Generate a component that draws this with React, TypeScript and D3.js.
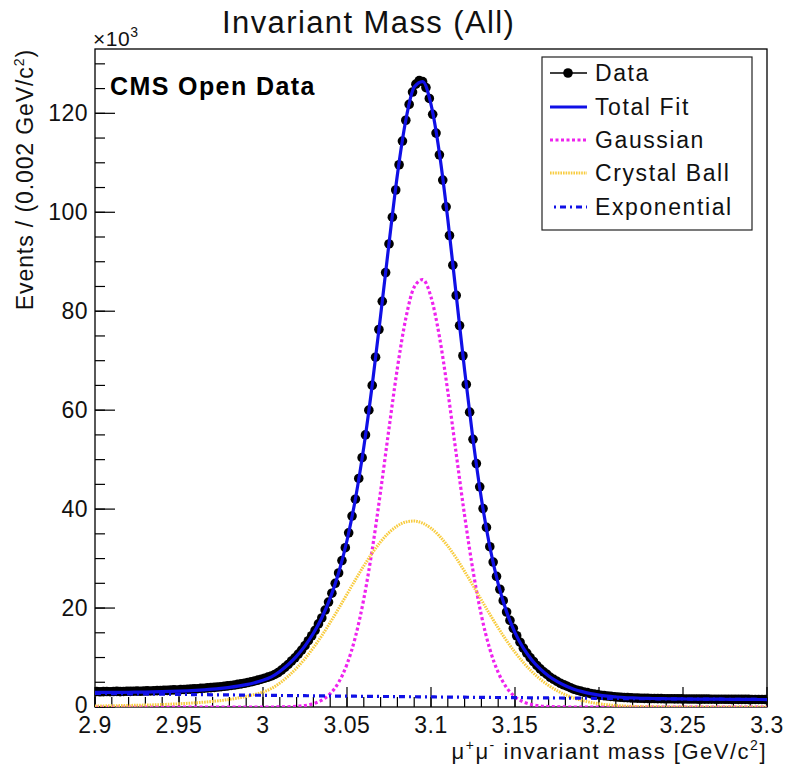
import React from "react";
import * as d3 from "d3";

// ---- data (values in units of 10^3 events) ----
const binStart = 2.9;
const binWidth = 0.002;
const dataCounts = [
  3.12, 3.08, 3.11, 3.13, 3.09, 3.12, 3.15, 3.1, 3.14, 3.17,
  3.16, 3.19, 3.21, 3.18, 3.23, 3.26, 3.24, 3.28, 3.31, 3.35,
  3.37, 3.36, 3.42, 3.46, 3.44, 3.51, 3.55, 3.58, 3.62, 3.67,
  3.7, 3.76, 3.8, 3.86, 3.92, 3.97, 4.04, 4.1, 4.18, 4.27,
  4.36, 4.45, 4.57, 4.68, 4.8, 4.95, 5.1, 5.26, 5.43, 5.62,
  5.82, 6.03, 6.28, 6.58, 6.95, 7.45, 8.0, 8.6, 9.3, 9.95,
  10.7, 11.5, 12.4, 13.4, 14.4, 15.5, 16.8, 18.0, 19.6, 21.2,
  23.0, 25.0, 27.1, 29.6, 32.2, 35.2, 38.6, 42.0, 46.2, 50.4,
  55.0, 60.0, 65.0, 70.7, 76.3, 82.0, 87.8, 93.6, 99.0, 104.5,
  109.6, 114.4, 118.6, 121.8, 124.3, 125.9, 126.6, 126.4, 125.2, 123.0,
  119.8, 116.0, 111.6, 106.5, 101.1, 95.3, 89.3, 83.2, 77.1, 71.0,
  65.2, 59.6, 54.1, 49.2, 44.5, 40.1, 36.3, 32.4, 29.3, 26.4,
  23.8, 21.5, 19.2, 17.5, 15.9, 14.4, 13.1, 11.9, 10.9, 10.0,
  9.2, 8.4, 7.7, 7.1, 6.6, 6.0, 5.6, 5.2, 4.8, 4.5,
  4.2, 3.9, 3.6, 3.4, 3.2, 3.0, 2.9, 2.7, 2.6, 2.5,
  2.38, 2.29, 2.21, 2.14, 2.08, 2.02, 1.97, 1.92, 1.89, 1.85,
  1.82, 1.8, 1.77, 1.75, 1.74, 1.72, 1.71, 1.69, 1.69, 1.67,
  1.67, 1.66, 1.65, 1.64, 1.64, 1.63, 1.62, 1.61, 1.62, 1.6,
  1.6, 1.59, 1.6, 1.58, 1.58, 1.57, 1.58, 1.57, 1.56, 1.55,
  1.56, 1.55, 1.54, 1.55, 1.54, 1.53, 1.53, 1.52, 1.53, 1.51,
];

// fit curves sampled every 0.005 GeV from 2.900 to 3.300
const gridStart = 2.9;
const gridStep = 0.005;
const totalFit = [
  2.95, 2.95, 2.96, 2.97, 2.98, 3.0, 3.02, 3.05, 3.09, 3.14,
  3.2, 3.27, 3.36, 3.47, 3.6, 3.77, 3.97, 4.22, 4.53, 4.91,
  5.39, 6.09, 7.18, 8.58, 10.29, 12.36, 14.9, 18.04, 22.0, 27.08,
  33.65, 42.06, 52.53, 65.05, 79.12, 93.67, 107.6, 118.6, 125.3, 126.4,
  121.8, 112.0, 98.6, 83.29, 68.09, 54.09, 42.09, 32.39, 24.89, 19.23,
  15.03, 11.89, 9.52, 7.7, 6.27, 5.17, 4.29, 3.61, 3.1, 2.71,
  2.4, 2.19, 2.04, 1.91, 1.83, 1.77, 1.73, 1.69, 1.67, 1.65,
  1.63, 1.61, 1.6, 1.59, 1.58, 1.57, 1.55, 1.54, 1.53, 1.52, 1.51,
];
const gaussian = [
  0, 0, 0, 0, 0, 0, 0, 0, 0, 0,
  0, 0, 0, 0, 0, 0, 0, 0, 0, 0,
  0, 0, 0.02, 0.05, 0.13, 0.3, 0.66, 1.37, 2.69, 4.97,
  8.64, 14.16, 21.85, 31.79, 43.6, 56.3, 68.51, 78.55, 84.87, 86.4,
  82.88, 74.9, 63.79, 51.19, 38.7, 27.57, 18.5, 11.71, 6.98, 3.92,
  2.07, 1.03, 0.49, 0.22, 0.09, 0.04, 0.01, 0, 0, 0,
  0, 0, 0, 0, 0, 0, 0, 0, 0, 0,
  0, 0, 0, 0, 0, 0, 0, 0, 0, 0, 0,
];
const crystalBall = [
  0.2, 0.22, 0.25, 0.28, 0.31, 0.35, 0.39, 0.44, 0.5, 0.57,
  0.65, 0.74, 0.85, 0.98, 1.13, 1.31, 1.53, 1.8, 2.13, 2.53,
  3.02, 3.74, 4.83, 6.22, 7.86, 9.78, 11.98, 14.42, 17.08, 19.9,
  22.81, 25.72, 28.52, 31.11, 33.39, 35.25, 36.61, 37.4, 37.59, 37.16,
  36.13, 34.57, 32.52, 30.11, 27.41, 24.56, 21.64, 18.75, 15.99, 13.41,
  11.07, 8.98, 7.17, 5.63, 4.35, 3.31, 2.47, 1.82, 1.32, 0.94,
  0.65, 0.45, 0.31, 0.2, 0.13, 0.08, 0.05, 0.03, 0.02, 0.01,
  0, 0, 0, 0, 0, 0, 0, 0, 0, 0, 0,
];
const exponential = [
  2.75, 2.73, 2.71, 2.69, 2.67, 2.65, 2.63, 2.61, 2.59, 2.57,
  2.55, 2.53, 2.51, 2.49, 2.47, 2.46, 2.44, 2.42, 2.4, 2.38,
  2.37, 2.35, 2.33, 2.31, 2.3, 2.28, 2.26, 2.25, 2.23, 2.21,
  2.2, 2.18, 2.16, 2.15, 2.13, 2.12, 2.1, 2.08, 2.07, 2.05,
  2.04, 2.02, 2.01, 1.99, 1.98, 1.96, 1.95, 1.93, 1.92, 1.9,
  1.89, 1.88, 1.86, 1.85, 1.83, 1.82, 1.81, 1.79, 1.78, 1.77,
  1.75, 1.74, 1.73, 1.71, 1.7, 1.69, 1.68, 1.66, 1.65, 1.64,
  1.63, 1.61, 1.6, 1.59, 1.58, 1.57, 1.55, 1.54, 1.53, 1.52, 1.51,
];

const xTicks = [2.9, 2.95, 3, 3.05, 3.1, 3.15, 3.2, 3.25, 3.3];
const xTickLabels = ["2.9", "2.95", "3", "3.05", "3.1", "3.15", "3.2", "3.25", "3.3"];
const yTicks = [0, 20, 40, 60, 80, 100, 120];
const yTickLabels = ["0", "20", "40", "60", "80", "100", "120"];
const legendLabels = ["Data", "Total Fit", "Gaussian", "Crystal Ball", "Exponential"];

const FONT = "'Liberation Sans', Arial, Helvetica, sans-serif";
const BLUE = "#1010e6";
const MAGENTA = "#ee22ee";
const YELLOW = "#f8cc40";

export default function App() {
  const W = 786;
  const H = 769;
  const L = 95, R = 767, T = 49, B = 707;
  const x = d3.scaleLinear().domain([2.9, 3.3]).range([L, R]);
  const y = d3.scaleLinear().domain([0, 133]).range([B, T]);

  const mk = (vals: number[]) =>
    d3
      .line<number>()
      .x((_, i) => x(gridStart + i * gridStep))
      .y((d) => y(d))
      .curve(d3.curveMonotoneX)(vals) || "";

  const minorX = d3.range(0, 41).map((i) => 2.9 + i * 0.01);
  const minorY = d3.range(0, 27).map((i) => i * 5);

  const rows = [73, 107, 140, 173, 207];

  return (
    <svg
      width={W}
      height={H}
      style={{ position: "absolute", left: 0, top: 0, background: "#fff" }}
      fontFamily={FONT}
    >
      <rect x={0} y={0} width={W} height={H} fill="#fff" />
      <defs>
        <clipPath id="plotclip">
          <rect x={L} y={T} width={R - L} height={B - T} />
        </clipPath>
      </defs>

      {/* title */}
      <text x={222} y={33} fontSize={31} letterSpacing={1.4} fill="#111">
        Invariant Mass (All)
      </text>

      {/* frame */}
      <rect x={L} y={T} width={R - L} height={B - T} fill="none" stroke="#000" strokeWidth={1.3} />

      {/* x ticks */}
      {minorX.map((v, i) => (
        <line key={"mx" + i} x1={x(v)} x2={x(v)} y1={B} y2={B - 10} stroke="#000" strokeWidth={1.2} />
      ))}
      {xTicks.map((v, i) => (
        <g key={"x" + i}>
          <line x1={x(v)} x2={x(v)} y1={B} y2={B - 20} stroke="#000" strokeWidth={1.2} />
          <text x={x(v)} y={733} fontSize={23} letterSpacing={0.5} textAnchor="middle" fill="#111">
            {xTickLabels[i]}
          </text>
        </g>
      ))}

      {/* y ticks */}
      {minorY.map((v, i) => (
        <line key={"my" + i} x1={L} x2={L + 10} y1={y(v)} y2={y(v)} stroke="#000" strokeWidth={1.2} />
      ))}
      {yTicks.map((v, i) => (
        <g key={"y" + i}>
          <line x1={L} x2={L + 20} y1={y(v)} y2={y(v)} stroke="#000" strokeWidth={1.2} />
          <text x={88} y={y(v) + (v === 0 ? 6 : 8)} fontSize={23} letterSpacing={0.5} textAnchor="end" fill="#111">
            {yTickLabels[i]}
          </text>
        </g>
      ))}

      {/* exponent */}
      <text x={93} y={46} fontSize={21} letterSpacing={0.5} fill="#111">
        ×10
        <tspan dy={-9} fontSize={14}>3</tspan>
      </text>

      {/* axis titles */}
      <text x={767} y={759} fontSize={22} letterSpacing={1.5} textAnchor="end" fill="#111">
        μ<tspan dy={-9} fontSize={14}>+</tspan>
        <tspan dy={9}>μ</tspan>
        <tspan dy={-9} fontSize={14}>-</tspan>
        <tspan dy={9}> invariant mass [GeV/c</tspan>
        <tspan dy={-9} fontSize={14}>2</tspan>
        <tspan dy={9}>]</tspan>
      </text>
      <text transform="rotate(-90)" x={-49} y={33} fontSize={23} letterSpacing={0.9} textAnchor="end" fill="#111">
        Events / (0.002 GeV/c<tspan dy={-9} fontSize={14}>2</tspan>
        <tspan dy={9}>)</tspan>
      </text>

      {/* CMS label */}
      <text x={110} y={95} fontSize={25} fontWeight="bold" letterSpacing={1.4} fill="#000">
        CMS Open Data
      </text>

      {/* plot contents */}
      <g clipPath="url(#plotclip)">
        {dataCounts.map((v, i) => (
          <circle key={"d" + i} cx={x(binStart + binWidth * (i + 0.5))} cy={y(v)} r={4.8} fill="#000" />
        ))}
        <path d={mk(totalFit)} fill="none" stroke={BLUE} strokeWidth={3.2} />
        <path d={mk(gaussian)} fill="none" stroke={MAGENTA} strokeWidth={3.2} strokeDasharray="3 2.5" />
        <path d={mk(crystalBall)} fill="none" stroke={YELLOW} strokeWidth={3} strokeDasharray="1.6 1" />
        <path d={mk(exponential)} fill="none" stroke={BLUE} strokeWidth={3.2} strokeDasharray="6 4 2 4" />
      </g>

      {/* legend */}
      <rect x={542} y={57} width={210} height={173} fill="#fff" stroke="#222" strokeWidth={1.2} />
      {legendLabels.map((lab, i) => (
        <text key={"l" + i} x={595} y={rows[i] + 8} fontSize={23} letterSpacing={1.6} fill="#111">
          {lab}
        </text>
      ))}
      <line x1={550} x2={587} y1={rows[0]} y2={rows[0]} stroke="#000" strokeWidth={1.5} />
      <circle cx={568} cy={rows[0]} r={4.8} fill="#000" />
      <line x1={550} x2={587} y1={rows[1]} y2={rows[1]} stroke={BLUE} strokeWidth={3.2} />
      <line x1={550} x2={587} y1={rows[2]} y2={rows[2]} stroke={MAGENTA} strokeWidth={3} strokeDasharray="3 2.5" />
      <line x1={550} x2={587} y1={rows[3]} y2={rows[3]} stroke={YELLOW} strokeWidth={3} strokeDasharray="1.6 1" />
      <line x1={554} x2={587} y1={rows[4]} y2={rows[4]} stroke={BLUE} strokeWidth={3} strokeDasharray="2 4 6 4" />
    </svg>
  );
}
